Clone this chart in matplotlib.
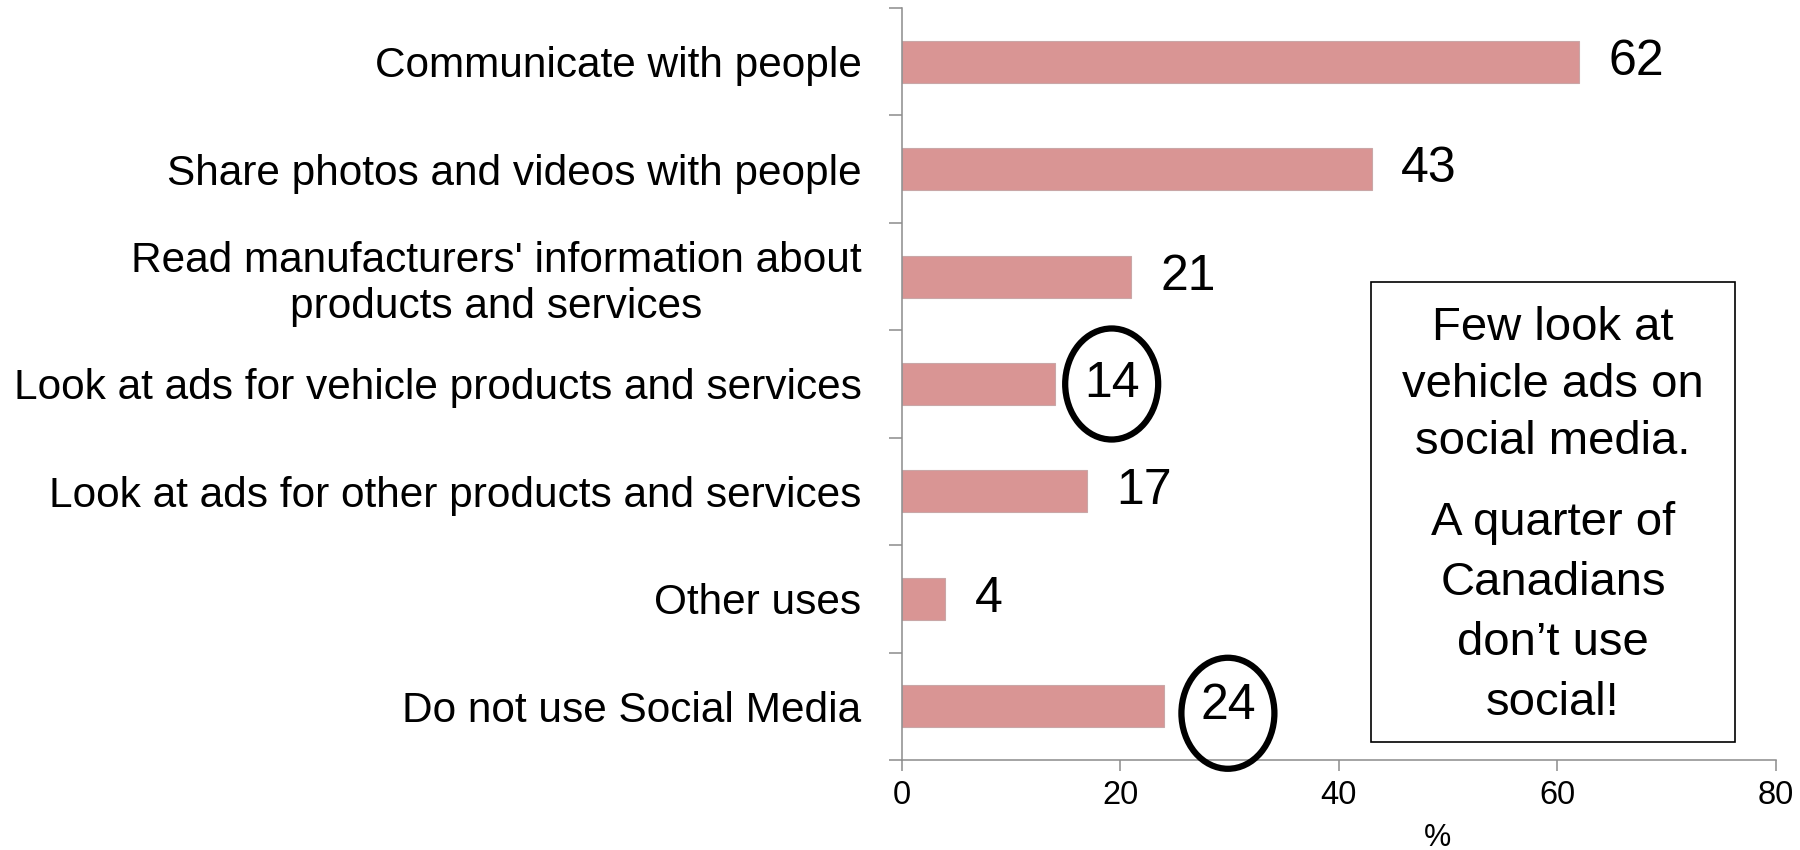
import matplotlib
matplotlib.use("Agg")
import matplotlib.pyplot as plt
from matplotlib.patches import Ellipse, Rectangle

plt.rcParams['font.family'] = ['Liberation Sans', 'DejaVu Sans']

# Social media uses (% of respondents)
categories = [
    "Communicate with people",
    "Share photos and videos with people",
    "Read manufacturers' information about\nproducts and services",
    "Look at ads for vehicle products and services",
    "Look at ads for other products and services",
    "Other uses",
    "Do not use Social Media",
]
values = [62, 43, 21, 14, 17, 4, 24]
highlighted = [3, 6]          # rows whose value labels are circled
x_ticks = [0, 20, 40, 60, 80]
x_label = "%"
note_lines_1 = ["Few look at", "vehicle ads on", "social media."]
note_lines_2 = ["A quarter of", "Canadians", "don\u2019t use", "social!"]

W, H = 1800, 850
fig = plt.figure(figsize=(W / 100, H / 100), dpi=100)
ax = fig.add_axes([901.7 / W, 1 - 760 / H, 874.3 / W, 752 / H])

axis_grey = "#8C8C8C"
bar_color = "#D99594"

ypos = list(range(len(categories)))
ax.barh(ypos, values, height=0.39, color=bar_color, edgecolor="#C9A7A7",
        linewidth=0.8, zorder=2)

ax.set_xlim(0, 80)
ax.set_ylim(len(categories) - 0.5, -0.5)

# category labels without tick marks; tick marks at category boundaries
ax.set_yticks(ypos)
ax.set_yticklabels(categories, fontsize=30.5, multialignment="center")
ax.tick_params(axis="y", which="major", length=0, pad=29)
ax.set_yticks([i - 0.5 for i in range(len(categories) + 1)], minor=True)
ax.tick_params(axis="y", which="minor", length=9.5, width=1.1,
               color=axis_grey, direction="out")

ax.set_xticks(x_ticks)
ax.set_xticklabels([str(t) for t in x_ticks], fontsize=23.5)
ax.tick_params(axis="x", length=7.7, width=1.1, color=axis_grey, pad=7)

ax.set_xlabel(x_label, fontsize=22)
ax.xaxis.set_label_coords((1438 - 901.7) / 874.3, -(838 - 760) / 752)
ax.xaxis.label.set_va("center")

for side in ("top", "right"):
    ax.spines[side].set_visible(False)
for side in ("left", "bottom"):
    ax.spines[side].set_color(axis_grey)
    ax.spines[side].set_linewidth(1.1)

# value labels
label_gap = {6: 26}
labels = []
for i, v in enumerate(values):
    t = ax.annotate(str(v), xy=(v, i), xytext=(label_gap.get(i, 21), 0),
                    textcoords="offset points", ha="left", va="center",
                    fontsize=36, color="black")
    labels.append(t)

# circle the highlighted value labels
ellipse_shift = {6: 0.065}
fig.canvas.draw()
renderer = fig.canvas.get_renderer()
inv = ax.transData.inverted()
for i in highlighted:
    bb = labels[i].get_window_extent(renderer)
    cx, cy = inv.transform(((bb.x0 + bb.x1) / 2, (bb.y0 + bb.y1) / 2))
    ax.add_patch(Ellipse((cx, i + ellipse_shift.get(i, 0)),
                         width=93 / 10.93, height=111 / 107.4,
                         fill=False, edgecolor="black", linewidth=4.5,
                         clip_on=False, zorder=3))

# note box
fig.patches.append(Rectangle((1371 / W, 1 - 742 / H), (1735 - 1371) / W,
                             (742 - 282) / H, transform=fig.transFigure,
                             fill=False, edgecolor="black", linewidth=1.2))
cx = 1553 / W
for k, line in enumerate(note_lines_1):
    fig.text(cx, 1 - (340 + 57 * k) / H, line, ha="center", va="baseline",
             fontsize=34)
for k, line in enumerate(note_lines_2):
    fig.text(cx, 1 - (535 + 60 * k) / H, line, ha="center", va="baseline",
             fontsize=34)

fig.savefig("out.png", dpi=100, facecolor="white")
